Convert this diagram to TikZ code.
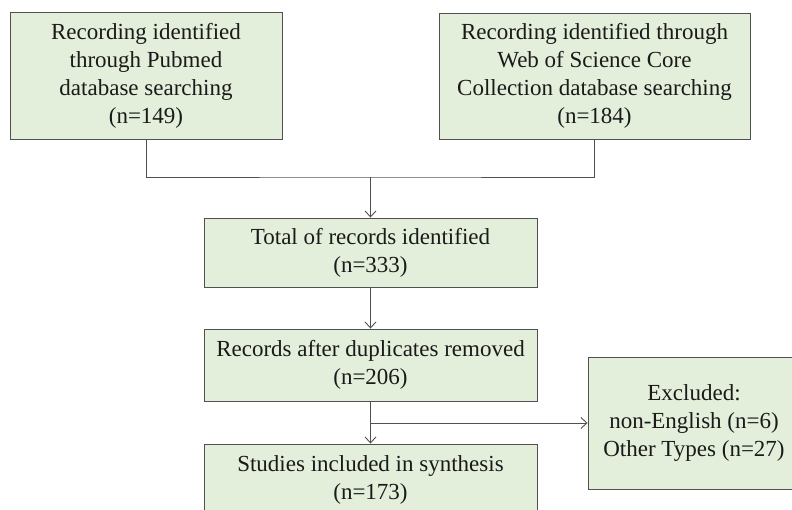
\documentclass[tikz,border=0pt]{standalone}
\usepackage{fontspec}
\setmainfont{Liberation Serif}
\usetikzlibrary{arrows.meta}
\definecolor{boxfill}{HTML}{E3EFDA}
\definecolor{boxline}{HTML}{505050}
\definecolor{inkc}{HTML}{1A1A1A}
\begin{document}
\begin{tikzpicture}[x=1bp,y=-1bp,
  flowbox/.style={draw=boxline, fill=boxfill, line width=0.9bp, align=center,
    text=inkc, inner sep=0pt, font=\fontsize{23bp}{28bp}\selectfont},
  link/.style={draw=boxline, line width=0.9bp},
  arr/.style={link, -{Straight Barb[length=6bp,width=11bp,line width=0.9bp]}}]
\useasboundingbox (0,0) rectangle (792,510);
\clip (0,0) rectangle (792,510);
\fill[white] (0,0) rectangle (792,510);

% source databases
\node[flowbox, minimum width=272bp, minimum height=127bp] (pubmed) at (146,75.5)
  {Recording identified\\through Pubmed\\database searching\\(n=149)};
\node[flowbox, minimum width=311bp, minimum height=126bp] (wos) at (594.5,76)
  {Recording identified through\\Web of Science Core\\Collection database searching\\(n=184)};

% main flow
\node[flowbox, minimum width=333bp, minimum height=69bp] (total) at (370.5,252.5)
  {Total of records identified\\(n=333)};
\node[flowbox, minimum width=333bp, minimum height=72bp] (dedup) at (370.5,365)
  {Records after duplicates removed\\(n=206)};
\node[flowbox, minimum width=333bp, minimum height=72bp] (incl) at (370.5,480)
  {Studies included in synthesis\\(n=173)};
\node[flowbox, minimum width=212bp, minimum height=132bp] (excl) at (694,423)
  {Excluded:\\non-English (n=6)\\Other Types (n=27)};

% connectors
\coordinate (join) at (370.5,177);
\draw[link] (pubmed.south) |- (join) -| (wos.south);
\draw[arr] (join) -- (total.north);
\draw[arr] (total.south) -- (dedup.north);
\draw[arr] (dedup.south) -- (incl.north);
\coordinate (split) at (dedup.south |- excl.west);
\draw[arr] (split) -- (excl.west);
\end{tikzpicture}
\end{document}
